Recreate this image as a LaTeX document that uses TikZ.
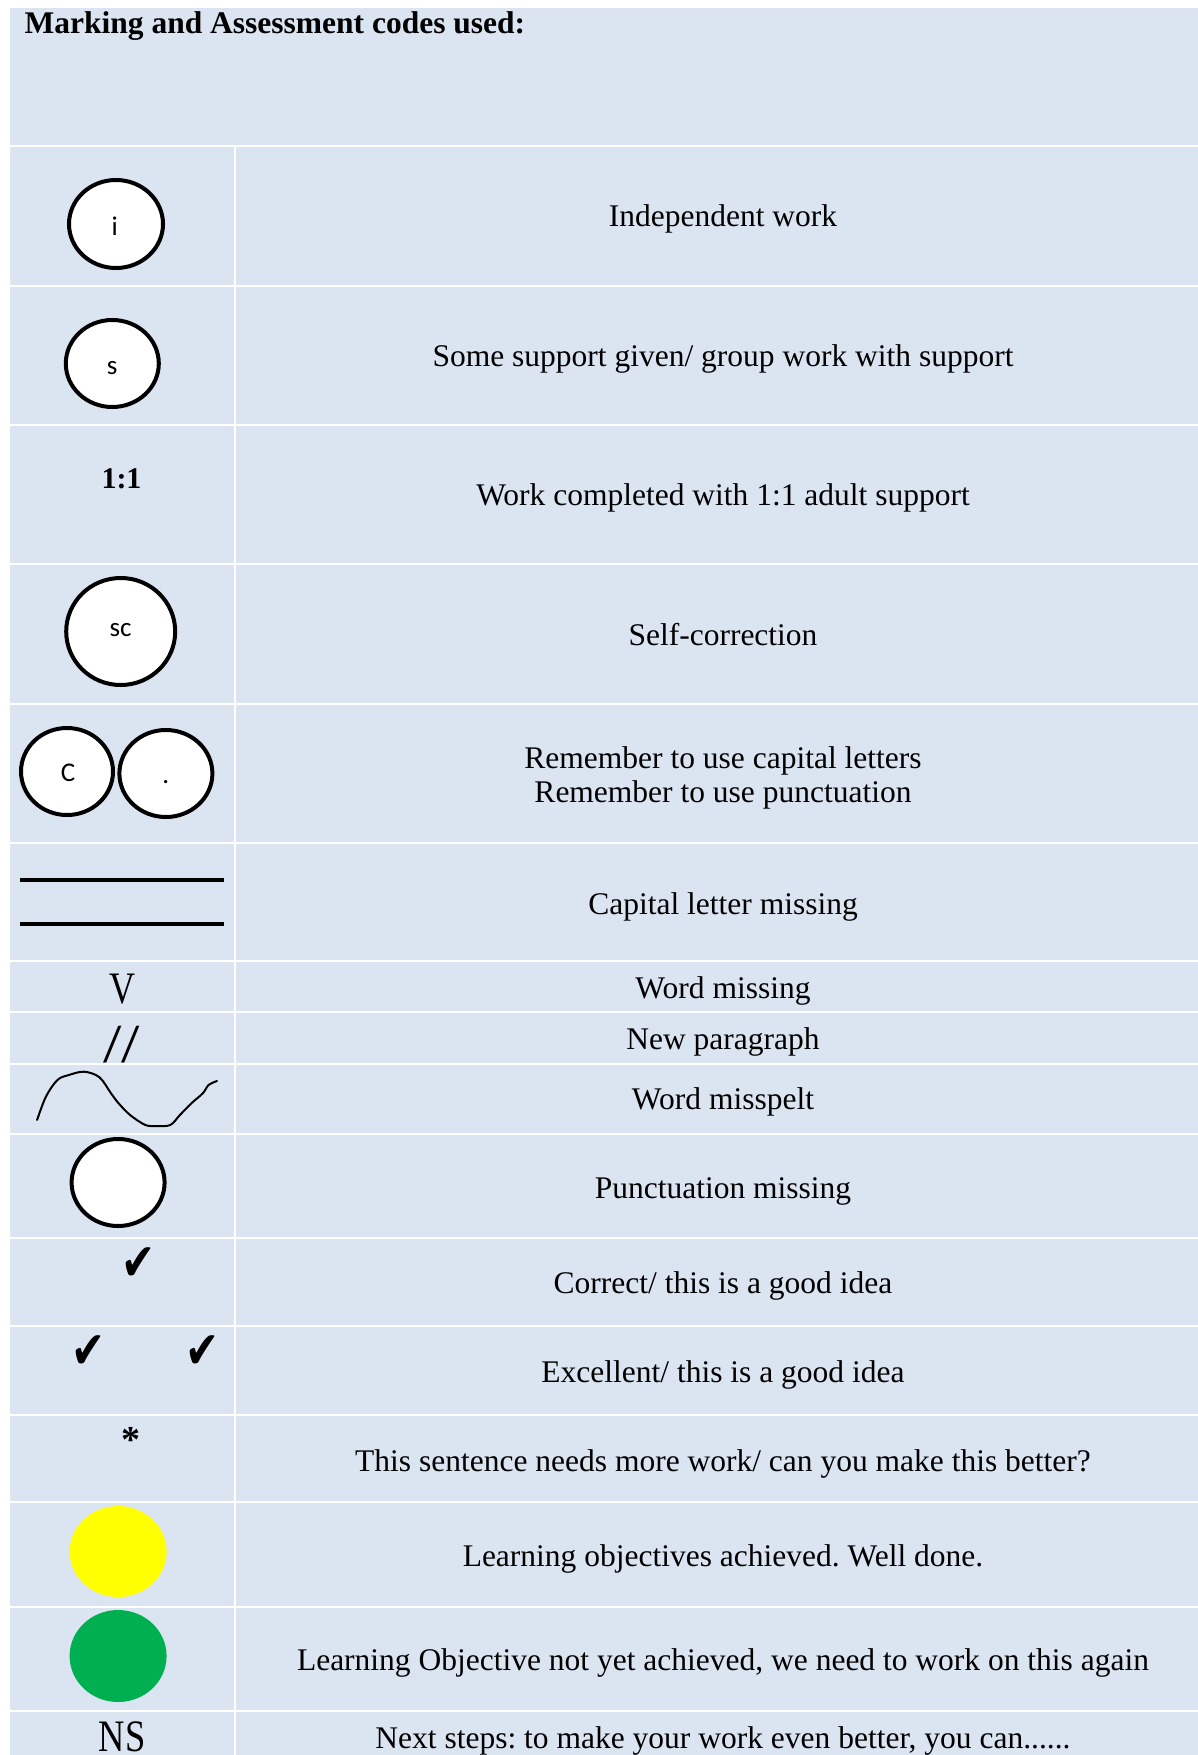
\documentclass[tikz,border=0pt]{standalone}
\usepackage{fontspec}
\setmainfont{Liberation Serif}
\newfontfamily\sansf{Carlito}
\newfontfamily\symf{DejaVu Sans}
\usetikzlibrary{shapes.geometric}
\definecolor{cellblue}{HTML}{DBE5F1}
\definecolor{markyellow}{HTML}{FFFF00}
\definecolor{markgreen}{HTML}{00B050}
\frenchspacing
\begin{document}
\begin{tikzpicture}[x=1pt,y=-1pt,
  desc/.style={anchor=base, inner sep=0pt, font=\fontsize{31.5}{33.5}\selectfont},
  ring/.style={ellipse, draw=black, line width=4pt, fill=white, inner sep=0pt},
  ringtext/.style={anchor=base, inner sep=0pt, font=\sansf\fontsize{27}{30}\selectfont},
  blob/.style={ellipse, inner sep=0pt, draw=none},
  code/.style={anchor=base, inner sep=0pt},
  chk/.style={inner sep=0pt, font=\symf\fontsize{52}{54}\selectfont},
  gridline/.style={white, line width=2pt},
  ruleline/.style={black, line width=4pt}
]
\useasboundingbox (0,0) rectangle (1198,1755);
\fill[cellblue] (10,8) rectangle (1198,1755);

% header
\node[anchor=base west, inner sep=0pt, font=\bfseries\fontsize{31.5}{33.5}\selectfont] (title) at (24.5,34) {Marking and Assessment codes used:};

% left column codes
\node[ring, minimum width=94pt, minimum height=88pt] (ci) at (116,224) {};
\node[ringtext] (ti) at (114.8,235) {i};
\node[ring, minimum width=93pt, minimum height=87pt] (cs) at (112.3,363.5) {};
\node[ringtext] (ts) at (112.1,374) {s};
\node[code, font=\bfseries\fontsize{30}{32}\selectfont] (one) at (121.5,488) {1:1};
\node[ring, minimum width=109pt, minimum height=107pt] (csc) at (120.7,631.5) {};
\node[ringtext] (tsc) at (120.5,636) {sc};
\node[ring, minimum width=92pt, minimum height=87pt] (cc) at (67,771.5) {};
\node[ringtext] (tc) at (68.1,781.7) {C};
\node[ring, minimum width=93pt, minimum height=87pt] (cp) at (165.9,773.5) {};
\node[ringtext] (tp) at (165.7,783) {.};
\coordinate (l1a) at (20,880); \coordinate (l1b) at (224,880);
\coordinate (l2a) at (20,924); \coordinate (l2b) at (224,924);
\draw[ruleline] (l1a) -- (l1b);
\draw[ruleline] (l2a) -- (l2b);
\node[code, font=\fontsize{45}{48}\selectfont] (vee) at (122,1003) {\scalebox{0.8}[1]{V}};
\node[code, font=\fontsize{55}{58}\selectfont] (slashes) at (121.7,1062) {\scalebox{1.2}[1]{//}};
\draw[black, line width=2pt, line cap=round, line join=round] plot[smooth, tension=0.55] coordinates {
  (37.1,1120) (45.9,1096.7) (57.4,1080) (68.9,1075) (84.2,1071.7) (99.5,1077.3) (111,1093.3)
  (118.6,1103.3) (130.1,1115) (145.4,1125) (156.9,1126) (170.3,1125) (179.9,1115)
  (191.4,1103.3) (202.8,1093.3) (208.6,1085) (217,1081)};
\node[ring, minimum width=93pt, minimum height=87pt] (cpm) at (118.1,1182.5) {};
\node[chk] (tick1) at (138.5,1264) {\scalebox{0.78}[1]{✔}};
\node[chk] (tick2) at (88.4,1352) {\scalebox{0.78}[1]{✔}};
\node[chk] (tick3) at (202.1,1352) {\scalebox{0.78}[1]{✔}};
\node[code, font=\bfseries\fontsize{38}{40}\selectfont] (star) at (130.6,1452) {*};
\node[blob, fill=markyellow, minimum width=97pt, minimum height=91pt] (yel) at (118.1,1551.5) {};
\node[blob, fill=markgreen, minimum width=97pt, minimum height=92pt] (grn) at (118.1,1656) {};
\node[code, font=\fontsize{45}{48}\selectfont] (ns) at (122,1751.5) {\scalebox{0.81}[1]{NS}};

% right column descriptions
\node[desc] (d1) at (723,226.5) {Independent work};
\node[desc] (d2) at (723,366.5) {Some support given/ group work with support};
\node[desc] (d3) at (723,505.5) {Work completed with 1:1 adult support};
\node[desc] (d4) at (723,645.5) {Self-correction};
\node[desc] (d5) at (723,768.5) {\begin{tabular}[t]{@{}c@{}}Remember to use capital letters\\Remember to use punctuation\end{tabular}};
\node[desc] (d6) at (723,914) {Capital letter missing};
\node[desc] (d7) at (723,998) {Word missing};
\node[desc] (d8) at (723,1049.5) {New paragraph};
\node[desc] (d9) at (723,1109.5) {Word misspelt};
\node[desc] (d10) at (723,1198.5) {Punctuation missing};
\node[desc] (d11) at (723,1293.5) {Correct/ this is a good idea};
\node[desc] (d12) at (723,1382) {Excellent/ this is a good idea};
\node[desc] (d13) at (723,1471) {This sentence needs more work/ can you make this better?};
\node[desc] (d14) at (723,1566) {Learning objectives achieved. Well done.};
\node[desc] (d15) at (723,1670) {Learning Objective not yet achieved, we need to work on this again};
\node[desc] (d16) at (723,1748.5) {Next steps: to make your work even better, you can......};

% grid
\foreach \yy in {145.7,285.8,425,563.7,703.7,843,961,1011.7,1063.7,1134,1237.7,1326,1415,1501.7,1607,1711}
  \draw[gridline] (10,\yy) -- (1198,\yy);
\draw[gridline] (235.3,145.7) -- (235.3,1755);
\end{tikzpicture}
\end{document}
